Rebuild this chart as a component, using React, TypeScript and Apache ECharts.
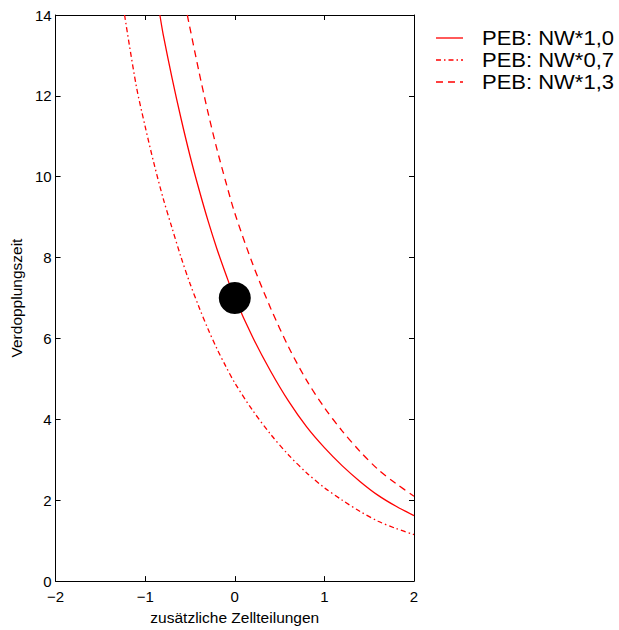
import React, { useEffect, useRef } from "react";
import * as echarts from "echarts";

const seriesNames = ["PEB: NW*1,0", "PEB: NW*0,7", "PEB: NW*1,3"];

const solidX = [-0.836, -0.8, -0.7, -0.6, -0.5, -0.4, -0.3, -0.2, -0.1, 0.0, 0.2, 0.4, 0.6, 0.8, 1.0, 1.2, 1.4, 1.6, 1.8, 2.0];
const solidY = [14.0, 13.53, 12.44, 11.44, 10.52, 9.69, 8.92, 8.22, 7.59, 7.0, 6.03, 5.19, 4.45, 3.82, 3.3, 2.85, 2.46, 2.12, 1.85, 1.62];

const lowX = [-1.23, -1.1, -1.0, -0.9, -0.8, -0.7, -0.6, -0.5, -0.4, -0.3, -0.2, -0.1, 0.0, 0.2, 0.4, 0.6, 0.8, 1.0, 1.2, 1.4, 1.6, 1.8, 2.0];
const lowY = [14.0, 12.25, 11.24, 10.31, 9.47, 8.73, 8.01, 7.36, 6.78, 6.24, 5.75, 5.31, 4.9, 4.22, 3.63, 3.12, 2.68, 2.31, 2.0, 1.72, 1.48, 1.3, 1.15];

const highX = [-0.53, -0.4, -0.3, -0.2, -0.1, 0.0, 0.2, 0.4, 0.6, 0.8, 1.0, 1.2, 1.4, 1.6, 1.8, 2.0];
const highY = [14.0, 12.6, 11.6, 10.69, 9.87, 9.1, 7.84, 6.75, 5.79, 4.97, 4.29, 3.71, 3.2, 2.76, 2.41, 2.1];

const pointX = [0];
const pointY = [7];

const xTicks = [-2, -1, 0, 1, 2];
const yTicks = [0, 2, 4, 6, 8, 10, 12, 14];

const FONT = "Liberation Sans, Arial, Helvetica, sans-serif";
const RED = "#ff0000";
const dashTypes: any[] = ["solid", [5, 3, 1.5, 3], [7, 5]];

function zip(xs: number[], ys: number[]) {
  return xs.map((x, i) => [x, ys[i]]);
}

export default function App() {
  const ref = useRef<HTMLDivElement>(null);
  useEffect(() => {
    if (!ref.current) return;
    const chart = echarts.init(ref.current, null, { renderer: "svg" });
    const axisLine = { show: true, onZero: false, lineStyle: { color: "#000", width: 1 } };
    const tickStyle = { show: true, inside: true, length: 5, lineStyle: { color: "#000", width: 1 } };
    const minusFmt = (v: number) => String(v).replace("-", "\u2212");

    const legendTop = 38;
    const legendStep = 22;
    const legendGraphics: any[] = [];
    seriesNames.forEach((name, i) => {
      const y = legendTop + i * legendStep;
      const dash = dashTypes[i];
      legendGraphics.push({
        type: "line",
        shape: { x1: 436, y1: y, x2: 463, y2: y },
        style: {
          stroke: RED,
          lineWidth: 1.3,
          lineDash: Array.isArray(dash) ? dash : null,
        },
        silent: true,
      });
      legendGraphics.push({
        type: "text",
        x: 482,
        y: y,
        scaleX: 1.1,
        style: {
          text: name,
          fontFamily: FONT,
          fontSize: 20,
          lineHeight: 20,
          fill: "#000",
          verticalAlign: "middle",
          align: "left",
        },
        silent: true,
      });
    });

    const lineSeries = [
      [solidX, solidY],
      [lowX, lowY],
      [highX, highY],
    ].map(([xs, ys], i) => ({
      name: seriesNames[i],
      type: "line",
      data: zip(xs, ys),
      smooth: 0.3,
      symbol: "none",
      clip: true,
      lineStyle: { color: RED, width: 1.3, type: dashTypes[i] },
      itemStyle: { color: RED },
    }));

    chart.setOption({
      animation: false,
      backgroundColor: "#fff",
      textStyle: { fontFamily: FONT },
      grid: { left: 52, top: 15, right: 205, bottom: 43, containLabel: false },
      graphic: legendGraphics,
      xAxis: [
        {
          type: "value",
          min: xTicks[0],
          max: xTicks[xTicks.length - 1],
          interval: 1,
          position: "bottom",
          name: "zusätzliche Zellteilungen",
          nameLocation: "middle",
          nameGap: 23,
          nameTextStyle: { fontFamily: FONT, fontSize: 15.5, color: "#000", verticalAlign: "top" },
          axisLine,
          axisTick: tickStyle,
          axisLabel: { color: "#000", fontSize: 15, lineHeight: 15, fontFamily: FONT, margin: 8, formatter: minusFmt },
          splitLine: { show: false },
        },
        {
          type: "value",
          min: xTicks[0],
          max: xTicks[xTicks.length - 1],
          interval: 1,
          position: "top",
          axisLine,
          axisTick: tickStyle,
          axisLabel: { show: false },
          splitLine: { show: false },
        },
      ],
      yAxis: [
        {
          type: "value",
          min: yTicks[0],
          max: yTicks[yTicks.length - 1],
          interval: 2,
          position: "left",
          name: "Verdopplungszeit",
          nameLocation: "middle",
          nameRotate: 90,
          nameGap: 21,
          nameTextStyle: { fontFamily: FONT, fontSize: 15.5, color: "#000" },
          axisLine,
          axisTick: tickStyle,
          axisLabel: { color: "#000", fontSize: 15, lineHeight: 15, fontFamily: FONT, margin: 4 },
          splitLine: { show: false },
        },
        {
          type: "value",
          min: yTicks[0],
          max: yTicks[yTicks.length - 1],
          interval: 2,
          position: "right",
          axisLine,
          axisTick: tickStyle,
          axisLabel: { show: false },
          splitLine: { show: false },
        },
      ],
      series: [
        ...lineSeries,
        {
          type: "scatter",
          data: zip(pointX, pointY),
          symbol: "circle",
          symbolSize: 32,
          itemStyle: { color: "#000", opacity: 1 },
          z: 5,
        },
      ],
    });
    return () => chart.dispose();
  }, []);
  return (
    <div
      ref={ref}
      style={{ position: "absolute", left: 0, top: 0, width: 619, height: 630 }}
    />
  );
}
